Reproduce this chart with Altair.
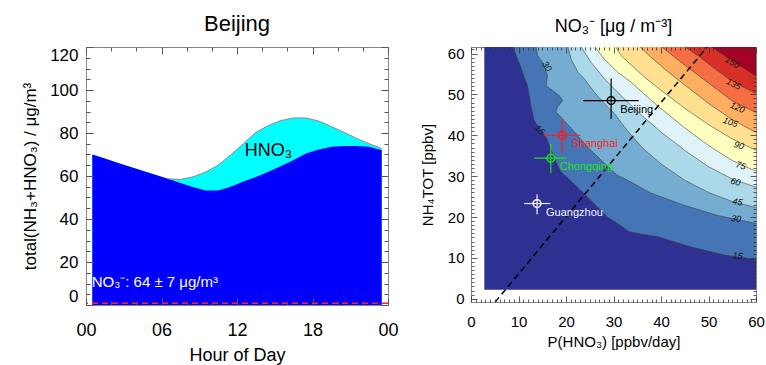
import altair as alt
import pandas as pd

FONT = "Liberation Sans"

# ---------------- Left panel: Beijing diurnal cycle ----------------
hours = [0.5, 1.5, 2.5, 3.5, 4.5, 5.5, 6.5, 7.5, 8.5, 9.5, 10.5, 11.5,
         12.5, 13.5, 14.5, 15.5, 16.5, 17.5, 18.5, 19.5, 20.5, 21.5, 22.5, 23.5]
no3_part = [70.0, 68.1, 66.2, 64.3, 62.4, 60.6, 58.7, 56.8, 54.9, 53.2, 53.3, 55.0,
            57.5, 59.5, 62.0, 64.6, 67.5, 70.6, 72.3, 73.6, 74.0, 74.0, 73.6, 72.0]
total_tot = [70.0, 68.1, 66.2, 64.3, 62.4, 60.6, 58.7, 58.4, 59.6, 61.8, 65.0, 69.8,
             75.0, 80.3, 83.5, 85.8, 87.0, 87.0, 85.5, 83.0, 80.3, 77.5, 75.0, 72.8]
red_level = [0.8]
hno3_text = ["HNO₃"]
hno3_hour = [14.5]
hno3_val = [71.8]
note_text = ["NO₃⁻:  64 ± 7 μg/m³"]
note_hour = [0.45]
note_val = [10.5]

# ---------------- Right panel: NO3- isopleths ----------------
levels = [15, 30, 45, 60, 75, 90, 105, 120, 135, 150]
band_colors = ["#2e3192", "#4575b4", "#74add1", "#abd9e9", "#e0f3f8", "#ffffbf",
               "#fee090", "#fdae61", "#f46d43", "#d73027", "#a50026"]
b15_x = [8.8, 10.5, 11.9, 12.6, 13.3, 14.7, 15.8, 16.8, 17.9, 18.9, 21.7, 25.2, 28.7, 31.0, 33.3, 36.0, 39.2, 46.2, 53.3, 60.0]
b15_y = [61.6, 56.6, 52.1, 47.3, 43.6, 41.2, 39.6, 36.7, 33.5, 31.1, 28.1, 24.1, 20.0, 18.3, 16.4, 15.8, 15.2, 12.7, 10.7, 9.6]
b30_x = [13.7, 14.0, 15.1, 16.1, 15.8, 16.8, 18.6, 19.3, 18.2, 17.9, 19.3, 21.8, 24.5, 27.5, 30.7, 33.6, 37.8, 44.8, 51.8, 56.0, 60.0]
b30_y = [61.6, 59.5, 57.8, 54.6, 52.1, 51.3, 49.7, 48.5, 46.9, 45.7, 44.0, 40.8, 37.2, 33.8, 30.3, 28.6, 25.9, 22.9, 20.4, 19.4, 18.4]
b45_x = [20.4, 21.1, 22.5, 23.9, 26.0, 28.1, 30.2, 33.0, 36.0, 40.0, 45.0, 50.0, 55.0, 60.0]
b45_y = [61.6, 58.6, 55.4, 53.8, 50.5, 47.7, 45.3, 41.0, 37.0, 33.0, 29.0, 26.0, 23.8, 22.3]
b60_x = [23.2, 25.3, 28.1, 30.9, 33.0, 36.0, 40.0, 45.0, 50.0, 55.0, 60.0]
b60_y = [61.6, 57.8, 53.8, 50.5, 48.1, 44.8, 40.8, 36.3, 32.3, 29.3, 27.3]
b75_x = [26.1, 28.1, 30.9, 33.7, 37.0, 40.0, 45.0, 50.0, 55.0, 60.0]
b75_y = [61.6, 58.6, 55.4, 53.0, 49.5, 46.5, 41.8, 37.5, 33.8, 31.2]
b90_x = [30.5, 31.6, 33.7, 37.0, 40.0, 45.0, 50.0, 55.0, 60.0]
b90_y = [61.6, 59.5, 57.2, 53.8, 51.0, 46.6, 42.6, 39.1, 36.3]
b105_x = [35.6, 38.0, 41.0, 45.0, 50.0, 55.0, 60.0]
b105_y = [61.6, 59.0, 56.0, 52.3, 47.8, 43.8, 40.7]
b120_x = [40.2, 43.0, 46.0, 50.0, 55.0, 60.0]
b120_y = [61.6, 59.0, 56.3, 52.8, 48.4, 45.6]
b135_x = [45.1, 48.0, 51.0, 54.0, 57.0, 60.0]
b135_y = [61.6, 59.3, 56.6, 54.0, 52.0, 50.2]
b150_x = [50.7, 53.0, 56.0, 60.0]
b150_y = [61.6, 59.8, 57.5, 54.5]
bounds_x = [b15_x, b30_x, b45_x, b60_x, b75_x, b90_x, b105_x, b120_x, b135_x, b150_x]
bounds_y = [b15_y, b30_y, b45_y, b60_y, b75_y, b90_y, b105_y, b120_y, b135_y, b150_y]

field_x = [2.8]
field_x2 = [60.0]
field_y = [2.2]
field_y2 = [61.6]

clabel_text = ["15", "30", "45", "60", "75", "90", "105", "120", "135", "150", "30", "15"]
clabel_x = [56.1, 55.8, 56.1, 55.7, 56.8, 56.4, 54.6, 56.1, 55.3, 55.0, 16.0, 14.5]
clabel_y = [10.5, 19.6, 23.7, 28.6, 32.6, 37.5, 43.2, 46.8, 52.5, 57.8, 56.9, 41.3]
clabel_ang = [6, 8, 10, 14, 16, 18, 20, 24, 26, 30, 55, 45]

city = ["Beijing", "Shanghai", "Chongqing", "Guangzhou"]
city_color = ["#000000", "#ff1a1a", "#19e619", "#f4f4ff"]
city_p = [29.5, 19.2, 16.8, 13.9]
city_p_lo = [23.6, 15.3, 13.3, 11.2]
city_p_hi = [35.3, 23.0, 20.2, 16.7]
city_n = [48.5, 40.0, 34.4, 23.3]
city_n_lo = [44.0, 35.8, 30.7, 20.7]
city_n_hi = [53.9, 44.0, 37.9, 25.5]

diag_x = [5.1, 49.7]
diag_y = [-0.8, 61.6]

W_L, H_L = 302, 258
W_R, H_R = 285, 255

# ---------- left chart ----------
dfL = pd.DataFrame({"hour": hours, "no3": no3_part, "total": total_tot})
scL_x = alt.Scale(domain=[0, 24], nice=False, zero=False)
scL_y = alt.Scale(domain=[0, 120], nice=False, zero=False)
axL_x = alt.Axis(values=list(range(0, 25, 2)),
                 labelExpr="datum.value % 6 === 0 ? ((datum.value % 24) < 10 ? '0' + (datum.value % 24) : '' + datum.value) : ''",
                 labelOverlap=False, labelFlush=False, labelFontSize=18, labelPadding=16,
                 titleFontSize=18, titlePadding=7, ticks=False, domain=False,
                 grid=True, gridColor="#555555", gridOpacity=1, gridWidth=1,
                 gridDash={"condition": {"test": "datum.value % 6 === 0", "value": [7, H_L - 14, 7]},
                           "value": [4, H_L - 8, 4]},
                 zindex=1)
axL_y = alt.Axis(values=list(range(0, 121, 5)),
                 labelExpr="datum.value % 20 === 0 ? datum.label : ''",
                 labelOverlap=False, labelFontSize=17, labelPadding=8, labelFlush=True,
                 titleFontSize=17, titlePadding=10, ticks=False, domain=False,
                 grid=True, gridColor="#555555", gridOpacity=1, gridWidth=1,
                 gridDash={"condition": {"test": "datum.value % 20 === 0", "value": [7, W_L - 14, 7]},
                           "value": [4, W_L - 8, 4]},
                 zindex=1)
ytitleL = "total(NH₃+HNO₃) / μg/m³"
xL = alt.X("hour:Q", title="Hour of Day", scale=scL_x, axis=axL_x)

cyan = alt.Chart(dfL).mark_area(color="#00ffff").encode(
    x=xL, y=alt.Y("total:Q", title=ytitleL, scale=scL_y, axis=axL_y))
blue = alt.Chart(dfL).mark_area(color="#0000ff").encode(
    x=xL, y=alt.Y("no3:Q", title=ytitleL, scale=scL_y, axis=axL_y))
gline = alt.Chart(dfL).transform_filter("datum.hour >= 6").mark_line(
    color="#8a8a8a", strokeWidth=1).encode(
    x=xL, y=alt.Y("total:Q", title=ytitleL, scale=scL_y, axis=axL_y))
red = alt.Chart(pd.DataFrame({"v": red_level})).mark_rule(
    color="#ff2020", strokeDash=[6, 4], strokeWidth=1.5).encode(
    y=alt.Y("v:Q", title=ytitleL, scale=scL_y, axis=axL_y))
t_hno3 = alt.Chart(pd.DataFrame({"hour": hno3_hour, "v": hno3_val, "t": hno3_text})).mark_text(
    font=FONT, fontSize=18, color="black").encode(
    x=xL, y=alt.Y("v:Q", title=ytitleL, scale=scL_y, axis=axL_y), text="t:N")
t_note = alt.Chart(pd.DataFrame({"hour": note_hour, "v": note_val, "t": note_text})).mark_text(
    font=FONT, fontSize=15, color="white", align="left").encode(
    x=xL, y=alt.Y("v:Q", title=ytitleL, scale=scL_y, axis=axL_y), text="t:N")

left = alt.layer(cyan, blue, gline, red, t_hno3, t_note).properties(
    width=W_L, height=H_L,
    title=alt.TitleParams("Beijing", fontSize=22, offset=10, font=FONT, fontWeight="normal"))

# ---------- right chart ----------
scR_x = alt.Scale(domain=[0, 60], nice=False, zero=False)
scR_y = alt.Scale(domain=[-0.8, 61.6], nice=False, zero=False)
axR_x = alt.Axis(values=list(range(0, 61)),
                 labelExpr="datum.value % 10 === 0 ? datum.label : ''",
                 labelOverlap=False, labelFlush=False, labelFontSize=15, labelPadding=12,
                 titleFontSize=15, titlePadding=5, ticks=False, domain=False,
                 grid=True, gridColor="#333333", gridOpacity=1, gridWidth=0.8,
                 gridDash={"condition": {"test": "datum.value % 10 === 0", "value": [6, H_R - 12, 6]},
                           "value": [3, H_R - 6, 3]},
                 zindex=1)
axR_y = alt.Axis(values=list(range(0, 62)),
                 labelExpr="datum.value % 10 === 0 ? datum.label : ''",
                 labelOverlap=False, labelFontSize=15, labelPadding=7,
                 titleFontSize=15, titlePadding=12, ticks=False, domain=False,
                 grid=True, gridColor="#333333", gridOpacity=1, gridWidth=0.8,
                 gridDash={"condition": {"test": "datum.value % 10 === 0", "value": [6, W_R - 12, 6]},
                           "value": [3, W_R - 6, 3]},
                 zindex=1)
xt = "P(HNO₃) [ppbv/day]"
yt = "NH₄TOT [ppbv]"


def X(f):
    return alt.X(f, title=xt, scale=scR_x, axis=axR_x, stack=None)


def Y(f):
    return alt.Y(f, title=yt, scale=scR_y, axis=axR_y, stack=None)


field = alt.Chart(pd.DataFrame({"x": field_x, "x2": field_x2, "y": field_y, "y2": field_y2})).mark_rect(
    color=band_colors[0]).encode(x=X("x:Q"), x2="x2:Q", y=Y("y:Q"), y2="y2:Q")

layers = [field]
line_layers = []
for i, lev in enumerate(levels):
    d = pd.DataFrame({"x": bounds_x[i], "y": bounds_y[i],
                      "xr": [field_x2[0]] * len(bounds_x[i]),
                      "i": list(range(len(bounds_x[i])))})
    layers.append(alt.Chart(d).mark_area(orient="horizontal", color=band_colors[i + 1]).encode(
        x=X("x:Q"), x2="xr:Q", y=Y("y:Q")))
    line_layers.append(alt.Chart(d).mark_line(color="#3a3a3a", strokeWidth=0.7, opacity=0.8).encode(
        x=X("x:Q"), y=Y("y:Q"), order="i:Q"))

clab = alt.Chart(pd.DataFrame({"x": clabel_x, "y": clabel_y, "t": clabel_text, "a": clabel_ang})).mark_text(
    font=FONT, fontSize=9, fontStyle="italic", color="#111111").encode(
    x=X("x:Q"), y=Y("y:Q"), text="t:N", angle=alt.Angle("a:Q", scale=None))

diag = alt.Chart(pd.DataFrame({"x": diag_x, "y": diag_y})).mark_line(
    color="black", strokeDash=[6, 4], strokeWidth=1.5, clip=True).encode(x=X("x:Q"), y=Y("y:Q"))

dfc = pd.DataFrame({"city": city, "p": city_p, "plo": city_p_lo, "phi": city_p_hi,
                    "n": city_n, "nlo": city_n_lo, "nhi": city_n_hi})
cscale = alt.Scale(domain=city, range=city_color)
hbar = alt.Chart(dfc).mark_rule(strokeWidth=1.2).encode(
    x=X("plo:Q"), x2="phi:Q", y=Y("n:Q"), color=alt.Color("city:N", scale=cscale, legend=None))
vbar = alt.Chart(dfc).mark_rule(strokeWidth=1.2).encode(
    x=X("p:Q"), y=Y("nlo:Q"), y2="nhi:Q", color=alt.Color("city:N", scale=cscale, legend=None))
circ = alt.Chart(dfc).mark_point(shape="circle", size=60, strokeWidth=1.5, filled=False, opacity=1).encode(
    x=X("p:Q"), y=Y("n:Q"), color=alt.Color("city:N", scale=cscale, legend=None))
clbl = alt.Chart(dfc).mark_text(font=FONT, fontSize=11, align="left", dx=9, dy=9).encode(
    x=X("p:Q"), y=Y("n:Q"), text="city:N", color=alt.Color("city:N", scale=cscale, legend=None))

right = alt.layer(*layers, *line_layers, clab, diag, hbar, vbar, circ, clbl).properties(
    width=W_R, height=H_R,
    title=alt.TitleParams("NO₃⁻ [μg / m⁻³]", fontSize=18, offset=6, font=FONT, fontWeight="normal"))

chart = alt.hconcat(left, right, spacing=20).properties(
    padding={"left": 21, "top": 12, "right": 0, "bottom": 0}
).configure_view(stroke="#888888", strokeWidth=1).configure_axis(
    labelFont=FONT, titleFont=FONT, titleFontWeight="normal", labelColor="#000000", titleColor="#000000"
).configure_title(font=FONT, fontWeight="normal", color="#000000")

chart.save("out.html", embed_options={"renderer": "svg", "actions": False})
